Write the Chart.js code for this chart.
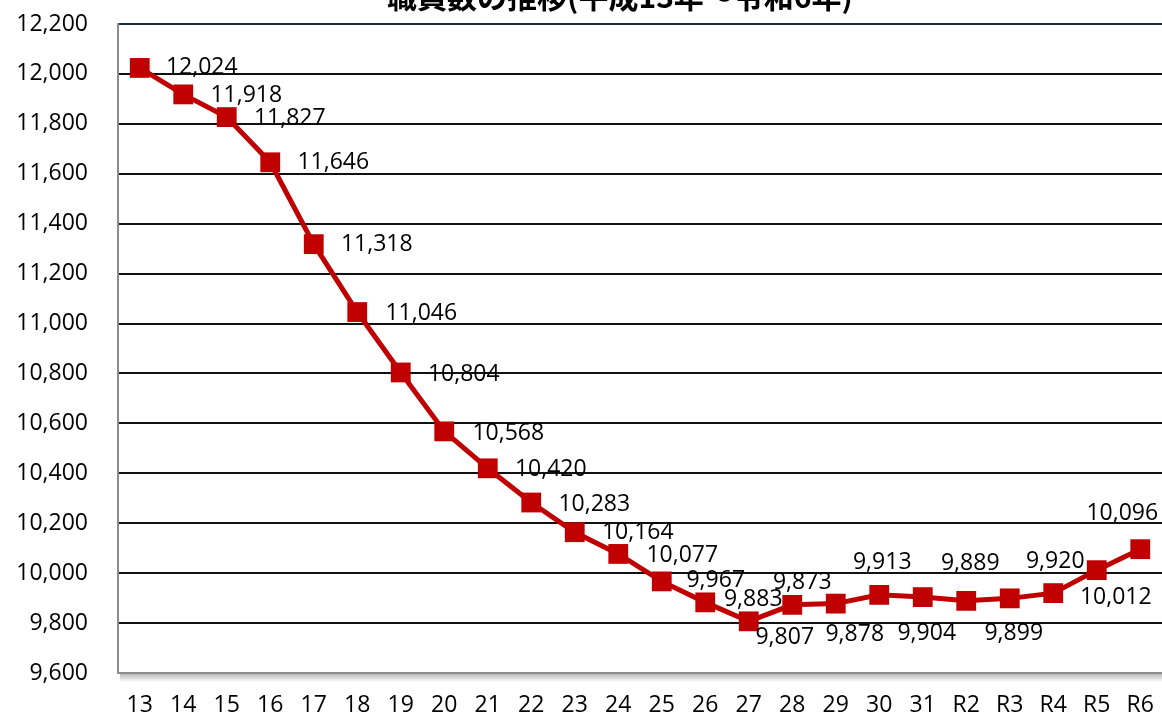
<!DOCTYPE html>
<html lang="ja">
<head>
<meta charset="utf-8">
<title>職員数の推移</title>
<script src="https://cdn.jsdelivr.net/npm/chart.js@4/dist/chart.umd.min.js"></script>
<style>
  html, body { margin: 0; padding: 0; background: #fff; }
  canvas { display: block; }
</style>
</head>
<body>
<canvas id="staffChart" width="1162" height="719"></canvas>
<script>
// 年度（平成13年～令和6年）
const years = ['13', '14', '15', '16', '17', '18', '19', '20', '21', '22', '23', '24',
               '25', '26', '27', '28', '29', '30', '31', 'R2', 'R3', 'R4', 'R5', 'R6'];
// 職員数
const staff = [12024, 11918, 11827, 11646, 11318, 11046, 10804, 10568, 10420, 10283, 10164, 10077,
               9967, 9883, 9807, 9873, 9878, 9913, 9904, 9889, 9899, 9920, 10012, 10096];
const titleText = '職員数の推移(平成13年～令和6年)';

// label offset from each point (dx, dy), label centred
const labelOffsets = [[62, 0], [63, 1], [63, 1], [63, 0], [63, 0], [64, 1], [63, 2], [64, 2],
                      [63, 1], [63, 2], [63, 0], [64, 2], [54, -1], [48, -3], [36, 16], [10, -22],
                      [19, 31], [3, -32], [4, 36], [4, -37], [4, 35], [2, -32], [19, 27], [-18, -36]];

const NUM_FONT = '"Open Sans", "Noto Sans", sans-serif';
const RED = '#C00000';

const fmt = v => v.toLocaleString('en-US');

const valueLabels = {
    id: 'valueLabels',
    afterDatasetsDraw(chart) {
        const c = chart.ctx;
        const meta = chart.getDatasetMeta(0);
        c.save();
        c.font = '23px ' + NUM_FONT;
        c.fillStyle = '#000';
        c.textAlign = 'center';
        c.textBaseline = 'middle';
        meta.data.forEach((pt, i) => {
            const off = labelOffsets[i];
            c.fillText(fmt(staff[i]), pt.x + off[0], pt.y + off[1]);
        });
        c.restore();
    }
};

// title (mostly above the visible area) + shadow under the plot
const decorations = {
    id: 'decorations',
    afterDraw(chart) {
        const c = chart.ctx;
        const area = chart.chartArea;
        c.save();
        const g = c.createLinearGradient(0, area.bottom, 0, area.bottom + 9);
        g.addColorStop(0, 'rgba(0,0,0,0.30)');
        g.addColorStop(1, 'rgba(0,0,0,0)');
        c.fillStyle = g;
        c.fillRect(area.left + 2, area.bottom + 1, area.right - area.left, 8);

        c.font = 'bold 30px "Noto Sans CJK JP", sans-serif';
        c.fillStyle = '#000';
        c.textAlign = 'center';
        c.textBaseline = 'alphabetic';
        c.fillText(titleText, 620, 8);
        c.restore();
    }
};

// the plot runs all the way to the right edge of the canvas
const fullWidth = {
    id: 'fullWidth',
    afterLayout(chart) {
        const area = chart.chartArea;
        if (chart.width - area.right > 0.5) {
            area.right = chart.width;
            area.width = area.right - area.left;
            chart.scales.x.right = chart.width;
            chart.scales.x.width = chart.width - chart.scales.x.left;
            chart.scales.x.configure();
        }
    }
};

const ctx = document.getElementById('staffChart').getContext('2d');
const staffChart = new Chart(ctx, {
    type: 'line',
    data: {
        labels: years,
        datasets: [{
            label: '職員数',
            data: staff,
            borderColor: RED,
            backgroundColor: RED,
            borderWidth: 5,
            tension: 0,
            pointStyle: 'rect',
            pointRadius: 14,
            pointHoverRadius: 14,
            pointBorderWidth: 0,
            pointBackgroundColor: RED,
            clip: false
        }]
    },
    options: {
        responsive: false,
        animation: false,
        layout: { padding: { top: 24, right: 0, bottom: 0, left: 0 } },
        plugins: {
            legend: { display: false },
            title: { display: false },
            tooltip: { enabled: false }
        },
        scales: {
            x: {
                offset: true,
                grid: { display: false, drawTicks: false },
                border: { display: true, color: '#8c8c8c', width: 2 },
                ticks: {
                    color: '#000',
                    padding: 19,
                    maxRotation: 0,
                    autoSkip: false,
                    font: { family: NUM_FONT, size: 23 }
                },
                afterFit(scale) {
                    scale.height = 46;
                    scale.paddingLeft = 0;
                    scale.paddingRight = 0;
                }
            },
            y: {
                min: 9600,
                max: 12200,
                grid: {
                    drawTicks: false,
                    lineWidth: 2,
                    color: c => c.tick && c.tick.value === 12200 ? '#1f2a3c'
                        : (c.tick && c.tick.value === 9600 ? '#8c8c8c' : '#111')
                },
                border: { display: true, color: '#8c8c8c', width: 2 },
                ticks: {
                    stepSize: 200,
                    color: '#000',
                    padding: 30,
                    font: { family: NUM_FONT, size: 23 },
                    callback: v => fmt(v)
                },
                afterFit(scale) {
                    scale.width = 118;
                    scale.paddingTop = 0;
                    scale.paddingBottom = 0;
                }
            }
        }
    },
    plugins: [valueLabels, decorations, fullWidth]
});
</script>
</body>
</html>
